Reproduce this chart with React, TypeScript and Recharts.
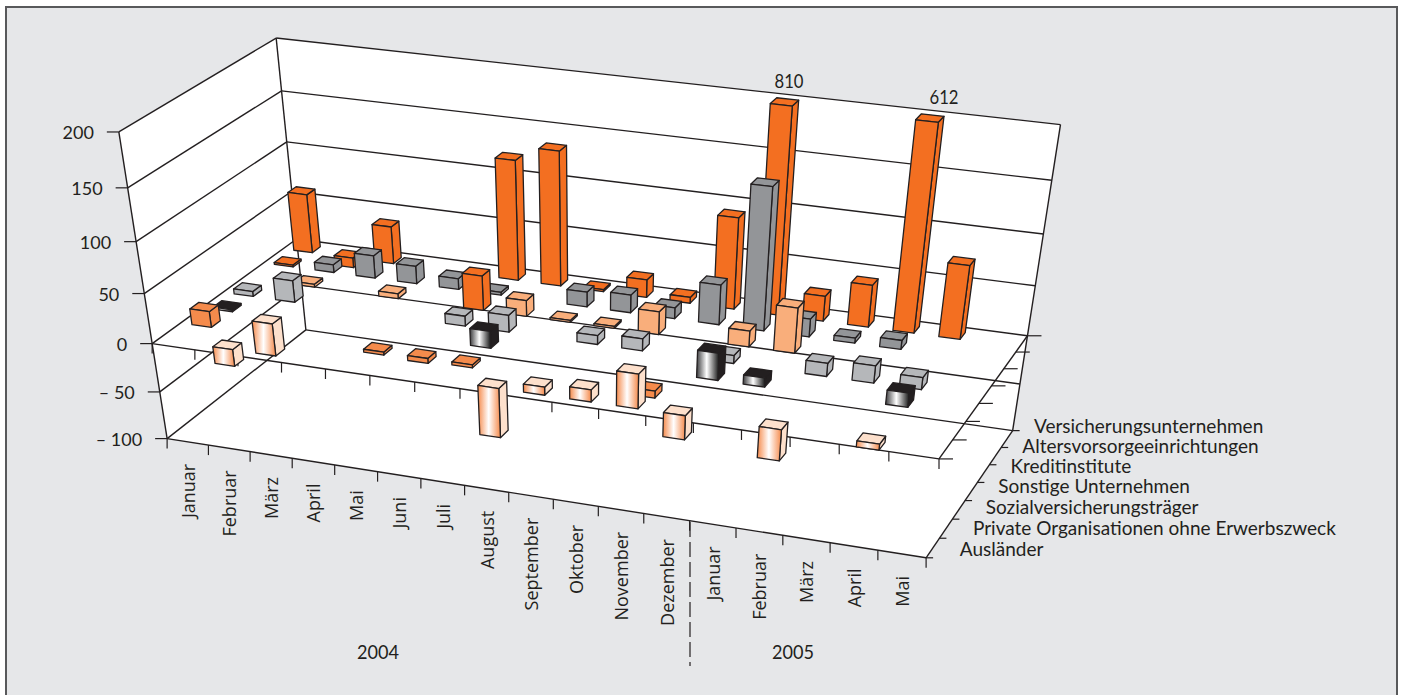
import React from "react";
import { ScatterChart, Scatter, XAxis, YAxis, ReferenceLine, ReferenceArea } from "recharts";

const W = 1401;
const H = 695;

// x axis: months, y axis: issuer groups (back to front), z axis: value
const months = ["Januar", "Februar", "März", "April", "Mai", "Juni", "Juli", "August", "September", "Oktober", "November", "Dezember", "Januar", "Februar", "März", "April", "Mai"];
const groups = ["Versicherungsunternehmen", "Altersvorsorgeeinrichtungen", "Kreditinstitute", "Sonstige Unternehmen", "Sozialversicherungsträger", "Private Organisationen ohne Erwerbszweck", "Ausländer"];
const valueTicks = [-100, -50, 0, 50, 100, 150, 200];
const valueLabels = ["– 100", "– 50", "0", "50", "100", "150", "200"];

const versicherung = [60, -10, 38, null, null, 120, 134, 2, 18, 6, 91, 810, 25, 42, 612, 73, null];
const altersvorsorge = [2, 8, 23, 18, 11, 3, null, 15, 18, 11, 40, 140, 18, 5, 9, null, null];
const kreditinstitute = [null, 3, null, 5, null, 35, 16, 2, 2, 23, null, 16, 45, null, null, null, null];
const sonstige = [5, 22, null, null, null, 10, 17, null, 9, 12, null, 8, null, 13, 17, 12, null];
const sozial = [2, null, null, null, null, null, 17, null, null, null, null, 27, 9, null, null, 14, null];
const privat = [16, null, null, null, -3, -5, -3, null, null, null, -7, null, null, null, null, null, null];
const auslaender = [null, -17, 32, null, null, null, null, -50, 8, 12, 34, -24, null, -31, null, -6, null];
const seriesValues = [versicherung, altersvorsorge, kreditinstitute, sonstige, sozial, privat, auslaender];

// cells whose bar is printed in the dark orange of the first group: [group, month]
const darkOrangeCells = [[1, 0], [2, 5]];

const INK = "#231f20";
const PANEL = "#e6e7e9";
const faces = [
  { front: "#f36f21", side: "#f36f21", top: "#f36f21" },
  { front: "#939598", side: "#939598", top: "#939598" },
  { front: "#f9ae7b", side: "#f9ae7b", top: "#f9ae7b" },
  { front: "#b5b7ba", side: "#b5b7ba", top: "#b5b7ba" },
  { front: "url(#blackMetal)", side: INK, top: INK },
  { front: "#f58b4c", side: "#f58b4c", top: "#f58b4c" },
  { front: "url(#paleOrange)", side: "#fde0cc", top: "#fde0cc" },
];

// where the edges of the 3d box sit on the page, one entry per value tick
const leftFront = [[167, 438], [160, 392], [153, 343], [144, 293], [136, 242], [127, 188], [119, 132]];
const leftBack = [[307, 329], [300, 285], [296, 242], [290, 193], [288, 141], [282, 90], [277, 37]];
const rightBack = [[1013, 430], [1020, 383], [1028, 336], [1035, 286], [1043, 234], [1052, 180], [1060, 125]];
const rightFrontLow = [[926, 558], [939, 460]]; // only the floor and the zero plane reach this edge

const AXIS_MIN = -100;
const AXIS_MAX = 200;
const BAR_W = 0.46;
const BAR_D = 0.42;

// solve A x = b by gaussian elimination
const solve = (A: number[][], b: number[]) => {
  const n = b.length;
  const M = A.map((row, i) => [...row, b[i]]);
  for (let c = 0; c < n; c++) {
    let piv = c;
    for (let r = c + 1; r < n; r++) if (Math.abs(M[r][c]) > Math.abs(M[piv][c])) piv = r;
    [M[c], M[piv]] = [M[piv], M[c]];
    for (let r = 0; r < n; r++) {
      if (r === c) continue;
      const f = M[r][c] / M[c][c];
      for (let k = c; k <= n; k++) M[r][k] -= f * M[c][k];
    }
  }
  return M.map((row, i) => row[n] / row[i]);
};

// least squares fit of one perspective camera through all the box edge points
const fitCamera = () => {
  const samples: number[][] = [];
  valueTicks.forEach((v, i) => {
    const vn = (v - AXIS_MIN) / (AXIS_MAX - AXIS_MIN);
    samples.push([0, 1, vn, ...leftFront[i]], [0, 0, vn, ...leftBack[i]], [1, 0, vn, ...rightBack[i]]);
  });
  samples.push([1, 1, 0, ...rightFrontLow[0]], [1, 1, 1 / 3, ...rightFrontLow[1]]);
  const rows: number[][] = [];
  const rhs: number[] = [];
  samples.forEach(([s, t, v, u, w]) => {
    rows.push([s, t, v, 1, 0, 0, 0, 0, -u * s, -u * t, -u * v]);
    rhs.push(u);
    rows.push([0, 0, 0, 0, s, t, v, 1, -w * s, -w * t, -w * v]);
    rhs.push(w);
  });
  const AtA = rows[0].map((_, a) => rows[0].map((_, b) => rows.reduce((sum, r) => sum + r[a] * r[b], 0)));
  const Atb = rows[0].map((_, a) => rows.reduce((sum, r, i) => sum + r[a] * rhs[i], 0));
  return solve(AtA, Atb);
};
const cam = fitCamera();

// s along months, t from back to front, v in axis units (clipped to the axis)
const project = (s: number, t: number, v: number) => {
  const n = (Math.max(AXIS_MIN, Math.min(AXIS_MAX, v)) - AXIS_MIN) / (AXIS_MAX - AXIS_MIN);
  const w = cam[8] * s + cam[9] * t + cam[10] * n + 1;
  return {
    x: (cam[0] * s + cam[1] * t + cam[2] * n + cam[3]) / w,
    y: (cam[4] * s + cam[5] * t + cam[6] * n + cam[7]) / w,
  };
};

type Pt = { x: number; y: number };
const seg = (a: Pt, b: Pt) => [{ x: a.x, y: a.y }, { x: b.x, y: b.y }];

// one entry per bar, painted back to front and left to right
const bars: any[] = [];
seriesValues.forEach((values, r) => {
  values.forEach((value, m) => {
    if (value === null) return;
    const s0 = (m + 0.5 - BAR_W / 2) / 17, s1 = (m + 0.5 + BAR_W / 2) / 17;
    const t0 = (r + 0.5 - BAR_D / 2) / 7, t1 = (r + 0.5 + BAR_D / 2) / 7;
    const hi = Math.max(value, 0), lo = Math.min(value, 0);
    const anchor = project(s0, t1, lo);
    const rel = (p: Pt) => `${p.x - anchor.x},${p.y - anchor.y}`;
    const poly = (pts: Pt[]) => pts.map(rel).join(" ");
    const look = darkOrangeCells.some(([a, b]) => a === r && b === m) ? faces[0] : faces[r];
    bars.push({
      px: anchor.x,
      py: anchor.y,
      look,
      front: poly([project(s0, t1, lo), project(s1, t1, lo), project(s1, t1, hi), project(s0, t1, hi)]),
      side: poly([project(s1, t1, lo), project(s1, t0, lo), project(s1, t0, hi), project(s1, t1, hi)]),
      top: poly([project(s0, t1, hi), project(s1, t1, hi), project(s1, t0, hi), project(s0, t0, hi)]),
    });
  });
});

const BarBox = (p: any) => {
  const { look, front, side, top } = p.payload;
  const stroke = { stroke: INK, strokeWidth: 1.3, strokeLinejoin: "round" as const };
  return (
    <g transform={`translate(${p.cx},${p.cy})`}>
      <polygon points={side} fill={look.side} {...stroke} />
      <polygon points={top} fill={look.top} {...stroke} />
      <polygon points={front} fill={look.front} {...stroke} />
    </g>
  );
};

const TextMark = (p: any) => {
  const { text, anchor, rotate, size, len, family } = p.payload;
  return (
    <text
      transform={`translate(${p.cx},${p.cy}) rotate(${rotate || 0})`}
      textAnchor={anchor || "start"}
      dominantBaseline="central"
      fontFamily={family || "Lato, sans-serif"}
      fontSize={size}
      fill={INK}
      textLength={len}
      lengthAdjust={len ? "spacingAndGlyphs" : undefined}
    >
      {text}
    </text>
  );
};

const Backdrop = () => {
  const wall = [
    project(0, 1, 200), project(0, 0, 200), project(1, 0, 200), project(1, 0, -100), project(1, 1, -100), project(0, 1, -100),
  ].map((q) => `${q.x},${q.y}`).join(" ");
  return (
    <g>
      <rect x={6} y={7} width={1391} height={700} fill={PANEL} stroke="#58595b" strokeWidth={2} />
      <polygon points={wall} fill="#ffffff" />
    </g>
  );
};

const lines: any[][] = [];
const ticks: any[][] = [];
valueTicks.forEach((v) => {
  lines.push(seg(project(0, 1, v), project(0, 0, v)));
  lines.push(seg(project(0, 0, v), project(1, 0, v)));
  const a = project(0, 1, v);
  ticks.push(seg(a, { x: a.x - 12, y: a.y }));
});
lines.push(seg(project(0, 1, 200), project(0, 1, -100)));
lines.push(seg(project(0, 0, 200), project(0, 0, -100)));
lines.push(seg(project(1, 0, 200), project(1, 0, -100)));
lines.push(seg(project(0, 1, -100), project(1, 1, -100)));
lines.push(seg(project(1, 1, -100), project(1, 0, -100)));
lines.push(seg(project(0, 1, 0), project(1, 1, 0)));
lines.push(seg(project(1, 1, 0), project(1, 0, 0)));
for (let k = 0; k <= months.length; k++) {
  [0, -100].forEach((v) => {
    const a = project(k / months.length, 1, v);
    ticks.push(seg(a, { x: a.x, y: a.y + 10 }));
  });
}
for (let k = 0; k <= groups.length; k++) {
  const a = project(1, k / groups.length, 0);
  ticks.push(seg(a, { x: a.x + 14, y: a.y }));
  const b = project(1, k / groups.length, -100);
  ticks.push(seg(b, { x: b.x + 7, y: b.y }));
}

const monthTexts = months.map((text, m) => {
  const a = project((m + 0.5) / months.length, 1, -100);
  return { px: a.x, py: a.y + 22, text, anchor: "end", rotate: -90, size: 18, family: "'Open Sans', sans-serif" };
});
const groupTexts = groups.map((text, r) => {
  const a = project(1, (r + 0.5) / groups.length, -100);
  return { px: a.x + 27, py: a.y - 13 + (14 * r) / 6, text, size: 19 };
});
const valueTexts = valueLabels.map((text, i) => {
  const a = project(0, 1, valueTicks[i]);
  return { px: a.x - 25, py: a.y, text, anchor: "end", size: 18 };
});
const peakTexts = [{ px: 789, py: 80, value: 810 }, { px: 944, py: 96, value: 612 }].map((d) => ({
  px: d.px, py: d.py, text: String(d.value), anchor: "middle", size: 19, len: 29,
}));
const yearTexts = [{ px: 378, py: 651, text: "2004" }, { px: 793, py: 651, text: "2005" }].map((d) => ({
  ...d, anchor: "middle", size: 19, len: 42,
}));
const allTexts = [...valueTexts, ...monthTexts, ...groupTexts, ...peakTexts, ...yearTexts];

const App = () => (
  <div style={{ position: "absolute", left: 0, top: 0, width: W, height: H, overflow: "hidden", background: "#fff" }}>
    <ScatterChart width={W} height={H} margin={{ top: 0, right: 0, bottom: 0, left: 0 }}>
      <defs>
        <linearGradient id="paleOrange" x1="0" y1="0" x2="1" y2="0">
          <stop offset="0" stopColor="#f58a4b" />
          <stop offset="0.48" stopColor="#ffffff" />
          <stop offset="1" stopColor="#f58a4b" />
        </linearGradient>
        <linearGradient id="blackMetal" x1="0" y1="0" x2="1" y2="0">
          <stop offset="0" stopColor="#3a3a3c" />
          <stop offset="0.45" stopColor="#ffffff" />
          <stop offset="1" stopColor="#111111" />
        </linearGradient>
      </defs>
      <XAxis type="number" dataKey="px" domain={[0, W]} hide />
      <YAxis type="number" dataKey="py" domain={[0, H]} reversed hide />
      <ReferenceArea x1={0} x2={W} y1={0} y2={H} shape={Backdrop} ifOverflow="visible" />
      {lines.map((s, i) => (
        <ReferenceLine key={`l${i}`} segment={s} stroke={INK} strokeWidth={1.4} ifOverflow="visible" />
      ))}
      {ticks.map((s, i) => (
        <ReferenceLine key={`t${i}`} segment={s} stroke={INK} strokeWidth={1.2} ifOverflow="visible" />
      ))}
      <ReferenceLine segment={[{ x: 690, y: 522 }, { x: 690, y: 666 }]} stroke={INK} strokeWidth={1.2} strokeDasharray="15 5" ifOverflow="visible" />
      <Scatter data={bars} shape={BarBox} isAnimationActive={false} />
      <Scatter data={allTexts} shape={TextMark} isAnimationActive={false} />
    </ScatterChart>
  </div>
);

export default App;
